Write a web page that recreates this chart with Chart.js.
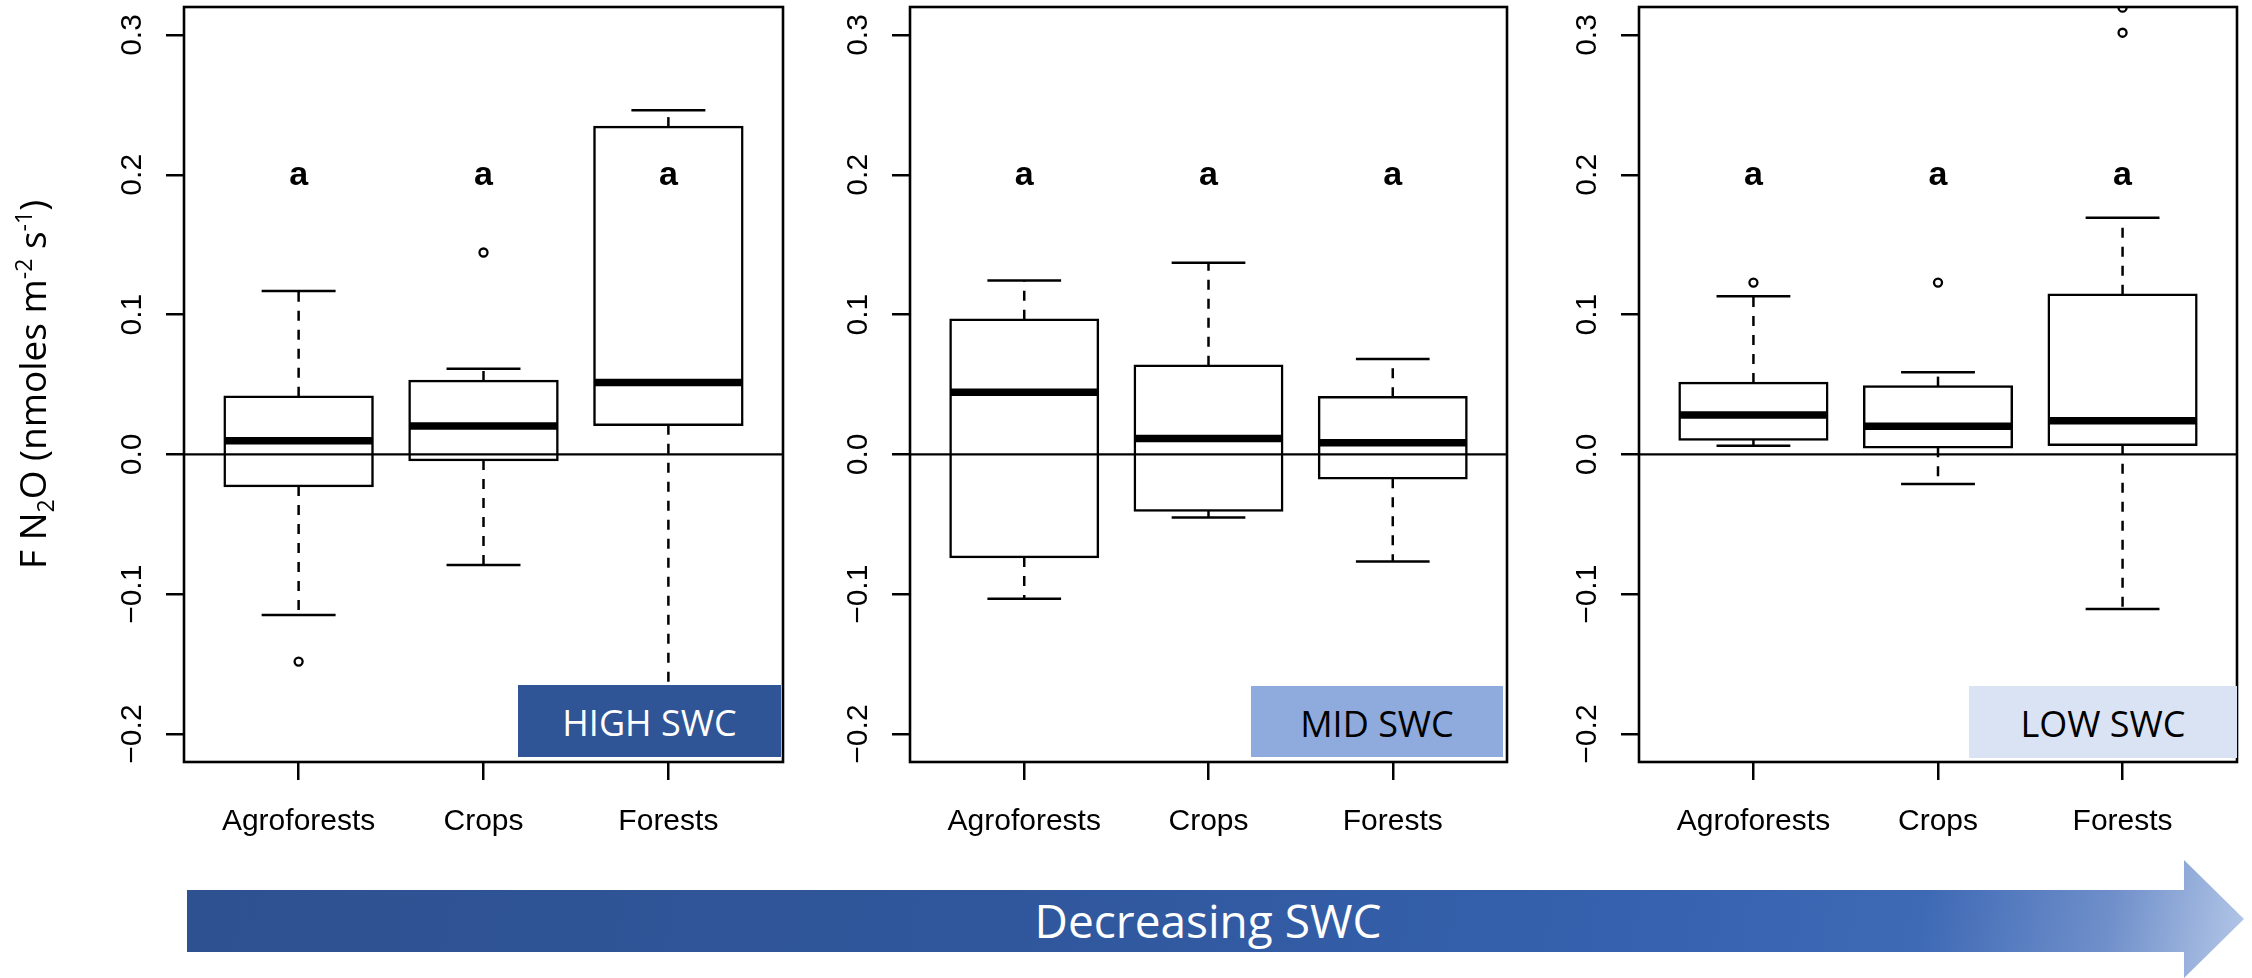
<!DOCTYPE html>
<html>
<head>
<meta charset="utf-8">
<title>F N2O by land use and soil water content</title>
<script src="https://cdn.jsdelivr.net/npm/chart.js@4.4.1/dist/chart.umd.min.js"></script>
<style>
  body { margin: 0; width: 2252px; height: 978px; overflow: hidden; position: relative; background: #fff; }
  canvas { position: absolute; top: 0; }
  .swc { position: absolute; z-index: 2; font-family: 'Open Sans', sans-serif; font-size: 36px; line-height: 1;
         box-sizing: border-box; padding-top: 20px; text-align: center; }
  #arrow { position: absolute; z-index: 2; left: 187px; top: 860px; width: 2057px; height: 118px;
           clip-path: polygon(0 30px, 1997px 30px, 1997px 0, 100% 59px, 1997px 118px, 1997px 92px, 0 92px);
           background: linear-gradient(100deg, #2E5190 0%, #30579C 40%, #3561AE 70%, #3E69B5 84%, #6F8FCA 93%, #B5C8E8 100%); }
  #arrow span { position: absolute; left: 1021px; top: 37px; transform: translateX(-50%); white-space: nowrap;
                font-family: 'Open Sans', sans-serif; font-size: 46px; line-height: 1; color: #fff; }
</style>
</head>
<body>
<canvas id="p1" width="800" height="850" style="left:0px"></canvas>
<canvas id="p2" width="800" height="850" style="left:726px"></canvas>
<canvas id="p3" width="797" height="850" style="left:1455px"></canvas>

<div class="swc" style="left:518px;top:685px;width:263px;height:72px;background:#2F5597;color:#fff">HIGH SWC</div>
<div class="swc" style="left:1251px;top:686px;width:252px;height:71px;background:#8FAADC;color:#000">MID SWC</div>
<div class="swc" style="left:1969px;top:686px;width:268px;height:72px;background:#DAE3F3;color:#000">LOW SWC</div>

<div id="arrow"><span>Decreasing SWC</span></div>

<script>
const categories = ['Agroforests', 'Crops', 'Forests'];
const yTicks = [-0.2, -0.1, 0, 0.1, 0.2, 0.3];
const letterLevel = 0.2;

// high soil water content
const highLower = [-0.1148, -0.0791, -0.2100];
const highQ1 = [-0.0226, -0.0040, 0.0212];
const highMedian = [0.0098, 0.0204, 0.0514];
const highQ3 = [0.0413, 0.0525, 0.2341];
const highUpper = [0.1168, 0.0613, 0.2462];
const highOutliers = [[-0.1482], [0.1444], []];
const highLetters = ['a', 'a', 'a'];

// mid soil water content
const midLower = [-0.1032, -0.0452, -0.0766];
const midQ1 = [-0.0733, -0.0401, -0.0171];
const midMedian = [0.0445, 0.0113, 0.0084];
const midQ3 = [0.0963, 0.0635, 0.0408];
const midUpper = [0.1244, 0.1371, 0.0682];
const midOutliers = [[], [], []];
const midLetters = ['a', 'a', 'a'];

// low soil water content
const lowLower = [0.0062, -0.0212, -0.1105];
const lowQ1 = [0.0106, 0.0051, 0.0069];
const lowMedian = [0.0281, 0.0201, 0.0241];
const lowQ3 = [0.0511, 0.0485, 0.1142];
const lowUpper = [0.1131, 0.0587, 0.1692];
const lowOutliers = [[0.1229], [0.1229], [0.3016, 0.3195]];
const lowLetters = ['a', 'a', 'a'];

const tickFont = '30px "Liberation Sans", Arial, sans-serif';

function line(ctx, x1, y1, x2, y2) {
    ctx.beginPath();
    ctx.moveTo(x1, y1);
    ctx.lineTo(x2, y2);
    ctx.stroke();
}

// whiskers, medians, zero line, letters, frame and rotated y labels
const boxDecor = {
    id: 'boxDecor',
    beforeDatasetsDraw(chart, args, opts) {
        const {ctx, chartArea: a, scales: {x, y}} = chart;
        const half = x.getPixelForValue(1.2) - x.getPixelForValue(1);
        ctx.save();
        ctx.beginPath();
        ctx.rect(a.left, a.top, a.right - a.left, a.bottom - a.top);
        ctx.clip();
        ctx.strokeStyle = '#000';
        ctx.lineWidth = 2.5;
        opts.lower.forEach((lo, i) => {
            const px = x.getPixelForValue(i + 1);
            ctx.setLineDash([10, 9]);
            line(ctx, px, y.getPixelForValue(opts.q3[i]), px, y.getPixelForValue(opts.upper[i]));
            line(ctx, px, y.getPixelForValue(opts.q1[i]), px, y.getPixelForValue(lo));
            ctx.setLineDash([]);
            line(ctx, px - half, y.getPixelForValue(opts.upper[i]), px + half, y.getPixelForValue(opts.upper[i]));
            line(ctx, px - half, y.getPixelForValue(lo), px + half, y.getPixelForValue(lo));
        });
        ctx.restore();
    },
    afterDatasetsDraw(chart, args, opts) {
        const {ctx, chartArea: a, scales: {x, y}} = chart;
        const boxHalf = x.getPixelForValue(1.4) - x.getPixelForValue(1);
        ctx.save();
        ctx.strokeStyle = '#000';

        // medians
        ctx.lineWidth = 7.5;
        opts.median.forEach((m, i) => {
            const px = x.getPixelForValue(i + 1);
            line(ctx, px - boxHalf, y.getPixelForValue(m), px + boxHalf, y.getPixelForValue(m));
        });

        // zero line
        ctx.lineWidth = 2.2;
        line(ctx, a.left, y.getPixelForValue(0), a.right, y.getPixelForValue(0));

        // group letters
        ctx.fillStyle = '#000';
        ctx.font = 'bold 34px "Liberation Sans", Arial, sans-serif';
        ctx.textAlign = 'center';
        ctx.textBaseline = 'alphabetic';
        opts.letters.forEach((t, i) => {
            ctx.fillText(t, x.getPixelForValue(i + 1), y.getPixelForValue(letterLevel) + 10);
        });

        // frame
        ctx.lineWidth = 2.6;
        ctx.strokeRect(a.left, a.top, a.right - a.left, a.bottom - a.top);

        // rotated y tick labels
        ctx.font = tickFont;
        y.ticks.forEach(t => {
            const label = t.value < 0 ? '\u2212' + Math.abs(t.value).toFixed(1) : t.value.toFixed(1);
            ctx.save();
            ctx.translate(a.left - 43, y.getPixelForValue(t.value));
            ctx.rotate(-Math.PI / 2);
            ctx.fillText(label, 0, 0);
            ctx.restore();
        });
        ctx.restore();
    },
    afterDraw(chart, args, opts) {
        if (!opts.title) return;
        const {ctx, chartArea: a} = chart;
        const big = 37, small = 23;
        const parts = [
            ['F N', big, 0], ['2', small, 8], ['O (nmoles m', big, 0],
            ['-2', small, -14], [' s', big, 0], ['-1', small, -14], [')', big, 0]
        ];
        ctx.save();
        ctx.fillStyle = '#000';
        ctx.textBaseline = 'alphabetic';
        ctx.textAlign = 'left';
        let total = 0;
        parts.forEach(p => {
            ctx.font = p[1] + 'px "Open Sans", sans-serif';
            total += ctx.measureText(p[0]).width;
        });
        ctx.translate(46, (a.top + a.bottom) / 2);
        ctx.rotate(-Math.PI / 2);
        let cx = -total / 2;
        parts.forEach(p => {
            ctx.font = p[1] + 'px "Open Sans", sans-serif';
            ctx.fillText(p[0], cx, p[2]);
            cx += ctx.measureText(p[0]).width;
        });
        ctx.restore();
    }
};

function makePanel(id, padRight, lower, q1, median, q3, upper, outliers, letters, title) {
    const boxes = q1.map((v, i) => ({x: i + 1, y: [v, q3[i]]}));
    const points = [];
    outliers.forEach((list, i) => list.forEach(v => points.push({x: i + 1, y: v})));

    return new Chart(document.getElementById(id), {
        type: 'bar',
        data: {
            datasets: [{
                type: 'bar',
                data: boxes,
                backgroundColor: '#fff',
                borderColor: '#000',
                borderWidth: 2.5,
                borderSkipped: false,
                inflateAmount: 1.25,
                barPercentage: 0.8,
                categoryPercentage: 1
            }, {
                type: 'scatter',
                data: points,
                pointStyle: 'circle',
                pointRadius: 4,
                pointBorderWidth: 2.3,
                pointBackgroundColor: '#fff',
                pointBorderColor: '#000',
                clip: 0
            }]
        },
        options: {
            responsive: false,
            animation: false,
            devicePixelRatio: 1,
            layout: { padding: { left: 0, top: 7, right: padRight, bottom: 0 } },
            plugins: {
                legend: { display: false },
                tooltip: { enabled: false },
                boxDecor: { lower, q1, median, q3, upper, letters, title }
            },
            scales: {
                x: {
                    type: 'linear',
                    min: 0.38,
                    max: 3.62,
                    offset: false,
                    afterBuildTicks: s => { s.ticks = categories.map((c, i) => ({value: i + 1})); },
                    afterFit: s => { s.height = 88; },
                    ticks: {
                        callback: v => categories[v - 1],
                        font: { family: '"Liberation Sans", Arial, sans-serif', size: 30 },
                        color: '#000',
                        padding: 24,
                        maxRotation: 0,
                        autoSkip: false
                    },
                    grid: { offset: false, drawOnChartArea: false, tickLength: 18, lineWidth: 2.5, color: '#000' },
                    border: { display: false }
                },
                y: {
                    min: -0.22,
                    max: 0.32,
                    afterBuildTicks: s => { s.ticks = yTicks.map(v => ({value: v})); },
                    afterFit: s => { s.width = 184; },
                    ticks: { display: false },
                    grid: { drawOnChartArea: false, tickLength: 18, lineWidth: 2.5, color: '#000' },
                    border: { display: false }
                }
            }
        },
        plugins: [boxDecor]
    });
}

makePanel('p1', 17, highLower, highQ1, highMedian, highQ3, highUpper, highOutliers, highLetters, true);
makePanel('p2', 19, midLower, midQ1, midMedian, midQ3, midUpper, midOutliers, midLetters, false);
makePanel('p3', 15, lowLower, lowQ1, lowMedian, lowQ3, lowUpper, lowOutliers, lowLetters, false);
</script>
</body>
</html>
